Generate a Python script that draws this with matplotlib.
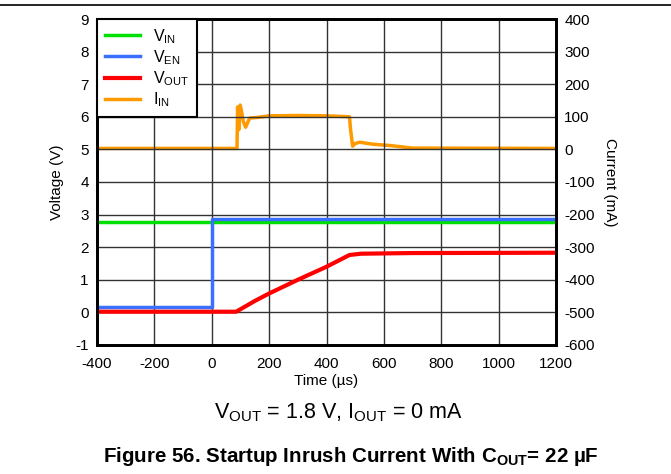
import numpy as np
import matplotlib as mpl
import matplotlib.pyplot as plt

mpl.rcParams['font.family'] = ['Liberation Sans', 'DejaVu Sans']
mpl.rcParams['mathtext.default'] = 'regular'
mpl.rcParams['axes.unicode_minus'] = False

# voltage traces (time in us, volts)
t_vin = [-400, 1200]
v_in = [2.78, 2.78]

t_ven = [-400, 0, 0, 1200]
v_en = [0.15, 0.15, 2.86, 2.86]

t_vout = [-400, 85, 150, 200, 300, 400, 480, 520, 700, 1200]
v_out = [0.02, 0.02, 0.35, 0.58, 1.0, 1.4, 1.76, 1.80, 1.82, 1.83]

# input current (time in us, mA)
t_iin = [-400, 88, 90, 94, 99, 103, 110, 118, 132, 160, 200, 300, 400, 480,
         484, 491, 500, 516, 560, 620, 700, 1200]
i_in = [3, 3, 130, 60, 136, 120, 85, 68, 96, 98, 103, 104, 103, 100,
        60, 10, 18, 22, 16, 12, 4, 3]

fig = plt.figure(figsize=(6.71, 4.74), dpi=100)
ax = fig.add_axes([0.1446, 0.2722, 0.6840, 0.6877])
ax2 = ax.twinx()

l1, = ax.plot(t_vin, v_in, color='#00e000', lw=2.5, label=r'V$_{IN}$')
l2, = ax.plot(t_ven, v_en, color='#3a6fff', lw=2.5, label=r'V$_{EN}$')
l3, = ax.plot(t_vout, v_out, color='#ff0000', lw=3, label=r'V$_{OUT}$')
l4, = ax2.plot(t_iin, i_in, color='#ff9900', lw=2.5, label=r'I$_{IN}$')

ax.set_xlim(-400, 1200)
ax.set_xticks(np.arange(-400, 1201, 200))
ax.set_ylim(-1, 9)
ax.set_yticks(np.arange(-1, 10, 1))
ax2.set_ylim(-600, 400)
ax2.set_yticks(np.arange(-600, 401, 100))

ax.grid(True, color='#333333', lw=1)
for a in (ax, ax2):
    a.tick_params(length=0, labelsize=11, pad=6)
    for s in a.spines.values():
        s.set_linewidth(2)
ax.tick_params(axis='x', pad=9)
ax.set_zorder(ax2.get_zorder() + 1)
ax.patch.set_visible(False)

ax.set_xlabel('Time (µs)', fontsize=11, labelpad=2)
ax.set_ylabel('Voltage (V)', fontsize=11, labelpad=8)
ax2.set_ylabel('Current (mA)', fontsize=11, rotation=270, labelpad=16)

leg = ax.legend(handles=[l1, l2, l3, l4], loc='upper left', fontsize=11.5,
                fancybox=False, framealpha=1, edgecolor='black',
                borderaxespad=0, handlelength=2.2, labelspacing=0.15,
                borderpad=0.5)
leg.get_frame().set_linewidth(1.5)

fig.text(0.504, 0.118, r'V$_{OUT}$ = 1.8 V, I$_{OUT}$ = 0 mA', ha='center',
         fontsize=15.5)
fig.text(0.523, 0.025, r'Figure 56. Startup Inrush Current With C$_{OUT}$= 22 µF',
         ha='center', fontsize=14.8, fontweight='bold')
fig.add_artist(plt.Line2D([0, 1], [0.989, 0.989], color='black', lw=1.2))

fig.savefig('out.png', dpi=100)
